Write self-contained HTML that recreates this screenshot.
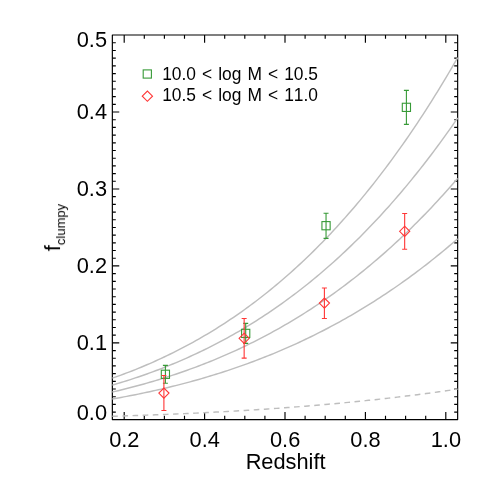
<!DOCTYPE html>
<html><head><meta charset="utf-8"><title>plot</title>
<style>html,body{margin:0;padding:0;background:#fff;}body{width:491px;height:491px;overflow:hidden;font-family:"Liberation Sans",sans-serif;}</style>
</head><body>
<svg width="491" height="491" viewBox="0 0 491 491" style="display:block">
<rect width="491" height="491" fill="#fff"/>
<g stroke="#000" stroke-width="1.18" fill="none" stroke-linecap="butt">
<rect x="112.35" y="35.0" width="345.30" height="384.60" stroke-linejoin="round"/>
<path stroke-width="1.15" d="M124.20 419.6v-7.7M124.20 35.0v7.7M144.30 419.6v-3.85M144.30 35.0v3.85M164.40 419.6v-3.85M164.40 35.0v3.85M184.50 419.6v-3.85M184.50 35.0v3.85M204.60 419.6v-7.7M204.60 35.0v7.7M224.70 419.6v-3.85M224.70 35.0v3.85M244.80 419.6v-3.85M244.80 35.0v3.85M264.90 419.6v-3.85M264.90 35.0v3.85M285.00 419.6v-7.7M285.00 35.0v7.7M305.10 419.6v-3.85M305.10 35.0v3.85M325.20 419.6v-3.85M325.20 35.0v3.85M345.30 419.6v-3.85M345.30 35.0v3.85M365.40 419.6v-7.7M365.40 35.0v7.7M385.50 419.6v-3.85M385.50 35.0v3.85M405.60 419.6v-3.85M405.60 35.0v3.85M425.70 419.6v-3.85M425.70 35.0v3.85M445.80 419.6v-7.7M445.80 35.0v7.7M112.35 412.11h3.45M457.65 412.11h-3.45M112.35 404.41h3.45M457.65 404.41h-3.45M112.35 396.72h3.45M457.65 396.72h-3.45M112.35 389.02h3.45M457.65 389.02h-3.45M112.35 381.33h3.45M457.65 381.33h-3.45M112.35 373.64h3.45M457.65 373.64h-3.45M112.35 365.94h3.45M457.65 365.94h-3.45M112.35 358.25h3.45M457.65 358.25h-3.45M112.35 350.55h3.45M457.65 350.55h-3.45M112.35 342.86h6.9M457.65 342.86h-6.9M112.35 335.17h3.45M457.65 335.17h-3.45M112.35 327.47h3.45M457.65 327.47h-3.45M112.35 319.78h3.45M457.65 319.78h-3.45M112.35 312.08h3.45M457.65 312.08h-3.45M112.35 304.39h3.45M457.65 304.39h-3.45M112.35 296.70h3.45M457.65 296.70h-3.45M112.35 289.00h3.45M457.65 289.00h-3.45M112.35 281.31h3.45M457.65 281.31h-3.45M112.35 273.61h3.45M457.65 273.61h-3.45M112.35 265.92h6.9M457.65 265.92h-6.9M112.35 258.23h3.45M457.65 258.23h-3.45M112.35 250.53h3.45M457.65 250.53h-3.45M112.35 242.84h3.45M457.65 242.84h-3.45M112.35 235.14h3.45M457.65 235.14h-3.45M112.35 227.45h3.45M457.65 227.45h-3.45M112.35 219.76h3.45M457.65 219.76h-3.45M112.35 212.06h3.45M457.65 212.06h-3.45M112.35 204.37h3.45M457.65 204.37h-3.45M112.35 196.67h3.45M457.65 196.67h-3.45M112.35 188.98h6.9M457.65 188.98h-6.9M112.35 181.29h3.45M457.65 181.29h-3.45M112.35 173.59h3.45M457.65 173.59h-3.45M112.35 165.90h3.45M457.65 165.90h-3.45M112.35 158.20h3.45M457.65 158.20h-3.45M112.35 150.51h3.45M457.65 150.51h-3.45M112.35 142.82h3.45M457.65 142.82h-3.45M112.35 135.12h3.45M457.65 135.12h-3.45M112.35 127.43h3.45M457.65 127.43h-3.45M112.35 119.73h3.45M457.65 119.73h-3.45M112.35 112.04h6.9M457.65 112.04h-6.9M112.35 104.35h3.45M457.65 104.35h-3.45M112.35 96.65h3.45M457.65 96.65h-3.45M112.35 88.96h3.45M457.65 88.96h-3.45M112.35 81.26h3.45M457.65 81.26h-3.45M112.35 73.57h3.45M457.65 73.57h-3.45M112.35 65.88h3.45M457.65 65.88h-3.45M112.35 58.18h3.45M457.65 58.18h-3.45M112.35 50.49h3.45M457.65 50.49h-3.45M112.35 42.79h3.45M457.65 42.79h-3.45"/>
</g>
<g stroke="#bebebe" stroke-width="1.45" fill="none">
<path d="M112.35 398.98L115.23 398.47L118.10 397.96L120.98 397.44L123.86 396.90L126.74 396.36L129.61 395.81L132.49 395.25L135.37 394.68L138.25 394.10L141.12 393.51L144.00 392.91L146.88 392.30L149.76 391.67L152.63 391.04L155.51 390.40L158.39 389.75L161.27 389.09L164.14 388.41L167.02 387.73L169.90 387.03L172.78 386.32L175.65 385.60L178.53 384.87L181.41 384.13L184.29 383.38L187.16 382.61L190.04 381.84L192.92 381.05L195.80 380.25L198.67 379.43L201.55 378.61L204.43 377.77L207.31 376.92L210.19 376.05L213.06 375.18L215.94 374.29L218.82 373.38L221.69 372.47L224.57 371.54L227.45 370.59L230.33 369.64L233.20 368.67L236.08 367.68L238.96 366.68L241.84 365.67L244.71 364.64L247.59 363.60L250.47 362.54L253.35 361.47L256.22 360.39L259.10 359.29L261.98 358.17L264.86 357.04L267.73 355.89L270.61 354.73L273.49 353.55L276.37 352.36L279.25 351.15L282.12 349.92L285.00 348.68L287.88 347.42L290.75 346.15L293.63 344.85L296.51 343.54L299.39 342.22L302.26 340.88L305.14 339.52L308.02 338.14L310.90 336.74L313.77 335.33L316.65 333.90L319.53 332.45L322.41 330.99L325.28 329.50L328.16 328.00L331.04 326.48L333.92 324.94L336.79 323.38L339.67 321.80L342.55 320.20L345.43 318.58L348.30 316.95L351.18 315.29L354.06 313.61L356.94 311.92L359.81 310.20L362.69 308.47L365.57 306.71L368.45 304.93L371.32 303.13L374.20 301.31L377.08 299.47L379.96 297.61L382.83 295.73L385.71 293.83L388.59 291.90L391.47 289.95L394.34 287.98L397.22 285.99L400.10 283.98L402.98 281.94L405.86 279.88L408.73 277.80L411.61 275.69L414.49 273.56L417.37 271.41L420.24 269.24L423.12 267.04L426.00 264.82L428.87 262.57L431.75 260.30L434.63 258.00L437.51 255.68L440.38 253.34L443.26 250.97L446.14 248.57L449.02 246.15L451.89 243.71L454.77 241.24L457.65 238.74"/>
<path d="M112.35 392.04L115.23 391.36L118.10 390.68L120.98 389.98L123.86 389.27L126.74 388.55L129.61 387.81L132.49 387.06L135.37 386.30L138.25 385.53L141.12 384.74L144.00 383.94L146.88 383.13L149.76 382.30L152.63 381.46L155.51 380.60L158.39 379.73L161.27 378.85L164.14 377.95L167.02 377.04L169.90 376.11L172.78 375.16L175.65 374.21L178.53 373.23L181.41 372.24L184.29 371.24L187.16 370.22L190.04 369.18L192.92 368.13L195.80 367.06L198.67 365.98L201.55 364.88L204.43 363.76L207.31 362.62L210.19 361.47L213.06 360.30L215.94 359.12L218.82 357.91L221.69 356.69L224.57 355.45L227.45 354.19L230.33 352.92L233.20 351.62L236.08 350.31L238.96 348.98L241.84 347.63L244.71 346.26L247.59 344.87L250.47 343.46L253.35 342.03L256.22 340.58L259.10 339.11L261.98 337.63L264.86 336.12L267.73 334.59L270.61 333.04L273.49 331.47L276.37 329.88L279.25 328.26L282.12 326.63L285.00 324.97L287.88 323.29L290.75 321.59L293.63 319.87L296.51 318.13L299.39 316.36L302.26 314.57L305.14 312.76L308.02 310.92L310.90 309.06L313.77 307.18L316.65 305.27L319.53 303.34L322.41 301.38L325.28 299.40L328.16 297.40L331.04 295.37L333.92 293.31L336.79 291.23L339.67 289.13L342.55 287.00L345.43 284.84L348.30 282.66L351.18 280.45L354.06 278.22L356.94 275.96L359.81 273.67L362.69 271.35L365.57 269.01L368.45 266.64L371.32 264.25L374.20 261.82L377.08 259.37L379.96 256.88L382.83 254.37L385.71 251.84L388.59 249.27L391.47 246.67L394.34 244.04L397.22 241.39L400.10 238.70L402.98 235.99L405.86 233.24L408.73 230.46L411.61 227.66L414.49 224.82L417.37 221.95L420.24 219.05L423.12 216.12L426.00 213.15L428.87 210.16L431.75 207.13L434.63 204.07L437.51 200.98L440.38 197.85L443.26 194.69L446.14 191.50L449.02 188.27L451.89 185.01L454.77 181.71L457.65 178.38"/>
<path d="M112.35 385.10L115.23 384.25L118.10 383.40L120.98 382.53L123.86 381.64L126.74 380.73L129.61 379.82L132.49 378.88L135.37 377.93L138.25 376.96L141.12 375.98L144.00 374.98L146.88 373.96L149.76 372.92L152.63 371.87L155.51 370.80L158.39 369.71L161.27 368.61L164.14 367.49L167.02 366.34L169.90 365.18L172.78 364.01L175.65 362.81L178.53 361.59L181.41 360.35L184.29 359.10L187.16 357.82L190.04 356.53L192.92 355.21L195.80 353.88L198.67 352.52L201.55 351.15L204.43 349.75L207.31 348.33L210.19 346.89L213.06 345.43L215.94 343.94L218.82 342.44L221.69 340.91L224.57 339.36L227.45 337.79L230.33 336.20L233.20 334.58L236.08 332.94L238.96 331.27L241.84 329.58L244.71 327.87L247.59 326.13L250.47 324.37L253.35 322.59L256.22 320.78L259.10 318.94L261.98 317.08L264.86 315.20L267.73 313.29L270.61 311.35L273.49 309.39L276.37 307.40L279.25 305.38L282.12 303.34L285.00 301.27L287.88 299.17L290.75 297.04L293.63 294.89L296.51 292.71L299.39 290.50L302.26 288.26L305.14 285.99L308.02 283.70L310.90 281.37L313.77 279.02L316.65 276.64L319.53 274.22L322.41 271.78L325.28 269.30L328.16 266.80L331.04 264.26L333.92 261.69L336.79 259.09L339.67 256.46L342.55 253.80L345.43 251.10L348.30 248.38L351.18 245.62L354.06 242.82L356.94 240.00L359.81 237.14L362.69 234.24L365.57 231.32L368.45 228.35L371.32 225.36L374.20 222.32L377.08 219.26L379.96 216.16L382.83 213.02L385.71 209.84L388.59 206.64L391.47 203.39L394.34 200.11L397.22 196.79L400.10 193.43L402.98 190.03L405.86 186.60L408.73 183.13L411.61 179.62L414.49 176.07L417.37 172.49L420.24 168.86L423.12 165.20L426.00 161.49L428.87 157.75L431.75 153.96L434.63 150.14L437.51 146.27L440.38 142.36L443.26 138.41L446.14 134.42L449.02 130.39L451.89 126.31L454.77 122.19L457.65 118.03"/>
<path d="M112.35 378.15L115.23 377.14L118.10 376.12L120.98 375.07L123.86 374.01L126.74 372.92L129.61 371.82L132.49 370.70L135.37 369.56L138.25 368.39L141.12 367.21L144.00 366.01L146.88 364.79L149.76 363.55L152.63 362.29L155.51 361.00L158.39 359.70L161.27 358.37L164.14 357.02L167.02 355.65L169.90 354.26L172.78 352.85L175.65 351.41L178.53 349.95L181.41 348.47L184.29 346.96L187.16 345.43L190.04 343.87L192.92 342.30L195.80 340.69L198.67 339.07L201.55 337.41L204.43 335.74L207.31 334.04L210.19 332.31L213.06 330.55L215.94 328.77L218.82 326.97L221.69 325.13L224.57 323.28L227.45 321.39L230.33 319.47L233.20 317.53L236.08 315.56L238.96 313.57L241.84 311.54L244.71 309.49L247.59 307.40L250.47 305.29L253.35 303.15L256.22 300.97L259.10 298.77L261.98 296.54L264.86 294.28L267.73 291.98L270.61 289.66L273.49 287.30L276.37 284.91L279.25 282.49L282.12 280.04L285.00 277.56L287.88 275.04L290.75 272.49L293.63 269.91L296.51 267.29L299.39 264.64L302.26 261.95L305.14 259.23L308.02 256.48L310.90 253.69L313.77 250.86L316.65 248.00L319.53 245.11L322.41 242.17L325.28 239.20L328.16 236.20L331.04 233.15L333.92 230.07L336.79 226.95L339.67 223.80L342.55 220.60L345.43 217.37L348.30 214.09L351.18 210.78L354.06 207.43L356.94 204.04L359.81 200.60L362.69 197.13L365.57 193.62L368.45 190.06L371.32 186.47L374.20 182.83L377.08 179.15L379.96 175.43L382.83 171.66L385.71 167.85L388.59 164.00L391.47 160.11L394.34 156.17L397.22 152.18L400.10 148.15L402.98 144.08L405.86 139.96L408.73 135.80L411.61 131.59L414.49 127.33L417.37 123.03L420.24 118.67L423.12 114.28L426.00 109.83L428.87 105.34L431.75 100.79L434.63 96.20L437.51 91.56L440.38 86.87L443.26 82.13L446.14 77.34L449.02 72.50L451.89 67.61L454.77 62.67L457.65 57.68"/>
<path stroke-dasharray="5.6 4.51" d="M112.35 416.27L115.23 416.19L118.10 416.10L120.98 416.01L123.86 415.92L126.74 415.83L129.61 415.73L132.49 415.64L135.37 415.54L138.25 415.44L141.12 415.34L144.00 415.24L146.88 415.14L149.76 415.03L152.63 414.93L155.51 414.82L158.39 414.71L161.27 414.60L164.14 414.48L167.02 414.37L169.90 414.25L172.78 414.13L175.65 414.01L178.53 413.88L181.41 413.76L184.29 413.63L187.16 413.50L190.04 413.37L192.92 413.23L195.80 413.10L198.67 412.96L201.55 412.82L204.43 412.68L207.31 412.53L210.19 412.39L213.06 412.24L215.94 412.09L218.82 411.93L221.69 411.78L224.57 411.62L227.45 411.46L230.33 411.30L233.20 411.14L236.08 410.97L238.96 410.80L241.84 410.63L244.71 410.45L247.59 410.28L250.47 410.10L253.35 409.92L256.22 409.73L259.10 409.55L261.98 409.36L264.86 409.17L267.73 408.97L270.61 408.77L273.49 408.57L276.37 408.37L279.25 408.17L282.12 407.96L285.00 407.75L287.88 407.54L290.75 407.32L293.63 407.10L296.51 406.88L299.39 406.65L302.26 406.43L305.14 406.20L308.02 405.96L310.90 405.73L313.77 405.49L316.65 405.24L319.53 405.00L322.41 404.75L325.28 404.50L328.16 404.24L331.04 403.99L333.92 403.73L336.79 403.46L339.67 403.19L342.55 402.92L345.43 402.65L348.30 402.37L351.18 402.09L354.06 401.81L356.94 401.52L359.81 401.23L362.69 400.93L365.57 400.64L368.45 400.34L371.32 400.03L374.20 399.72L377.08 399.41L379.96 399.10L382.83 398.78L385.71 398.45L388.59 398.13L391.47 397.80L394.34 397.46L397.22 397.13L400.10 396.78L402.98 396.44L405.86 396.09L408.73 395.74L411.61 395.38L414.49 395.02L417.37 394.66L420.24 394.29L423.12 393.91L426.00 393.54L428.87 393.16L431.75 392.77L434.63 392.38L437.51 391.99L440.38 391.59L443.26 391.19L446.14 390.79L449.02 390.38L451.89 389.96L454.77 389.54L457.65 389.12"/>
</g>
<g stroke="#379a37" stroke-width="1.1" fill="none">
<path d="M165.4 365.4V383.3M162.9 365.4h5.0M162.9 383.3h5.0"/>
<rect x="161.30" y="370.20" width="8.2" height="8.2"/>
<path d="M245.7 323.4V343.4M243.2 323.4h5.0M243.2 343.4h5.0"/>
<rect x="241.60" y="329.30" width="8.2" height="8.2"/>
<path d="M326.04 213.2V238.4M323.54 213.2h5.0M323.54 238.4h5.0"/>
<rect x="321.94" y="221.60" width="8.2" height="8.2"/>
<path d="M406.4 90.4V124.4M403.9 90.4h5.0M403.9 124.4h5.0"/>
<rect x="402.30" y="103.25" width="8.2" height="8.2"/>
<rect x="143.20" y="69.90" width="8.2" height="8.2"/>
</g>
<g stroke="#ff3636" stroke-width="1.1" fill="none">
<path d="M163.9 375.5V410.5M161.4 375.5h5.0M161.4 410.5h5.0"/>
<path d="M158.8 393.1L163.9 388.0L169.0 393.1L163.9 398.20000000000005Z"/>
<path d="M244.15 318.5V358.1M241.65 318.5h5.0M241.65 358.1h5.0"/>
<path d="M239.05 338.3L244.15 333.2L249.25 338.3L244.15 343.40000000000003Z"/>
<path d="M324.4 287.96V318.5M321.9 287.96h5.0M321.9 318.5h5.0"/>
<path d="M319.29999999999995 303.1L324.4 298.0L329.5 303.1L324.4 308.20000000000005Z"/>
<path d="M404.67 213.44V249.25M402.17 213.44h5.0M402.17 249.25h5.0"/>
<path d="M399.57 231.3L404.67 226.20000000000002L409.77000000000004 231.3L404.67 236.4Z"/>
<path d="M142.3 96.2L147.4 91.10000000000001L152.5 96.2L147.4 101.3Z"/>
</g>
<g font-family="'Liberation Sans', sans-serif" fill="#000" font-size="21.8" opacity="0.999">
<text transform="translate(124.3 446.9) scale(1 1.05)" text-anchor="middle">0.2</text>
<text transform="translate(204.7 446.9) scale(1 1.05)" text-anchor="middle">0.4</text>
<text transform="translate(285.1 446.9) scale(1 1.05)" text-anchor="middle">0.6</text>
<text transform="translate(365.5 446.9) scale(1 1.05)" text-anchor="middle">0.8</text>
<text transform="translate(445.9 446.9) scale(1 1.05)" text-anchor="middle">1.0</text>
<text transform="translate(107.0 47.4) scale(1 1.05)" text-anchor="end">0.5</text>
<text transform="translate(107.0 119.1) scale(1 1.05)" text-anchor="end">0.4</text>
<text transform="translate(107.0 196.0) scale(1 1.05)" text-anchor="end">0.3</text>
<text transform="translate(107.0 273.0) scale(1 1.05)" text-anchor="end">0.2</text>
<text transform="translate(107.0 350.0) scale(1 1.05)" text-anchor="end">0.1</text>
<text transform="translate(107.0 420.1) scale(1 1.05)" text-anchor="end">0.0</text>
<text transform="translate(285.6 468.6) scale(1 1.05)" text-anchor="middle">Redshift</text>
<text transform="translate(60.05 251.2) rotate(-90) scale(1 1.05)">f<tspan font-size="13" dy="4.5">clumpy</tspan></text>
<text transform="translate(162.2 79.5) scale(1 1.05)" font-size="17.4" word-spacing="1.2" style="font-kerning:none">10.0 &lt; log M &lt; 10.5</text>
<text transform="translate(162.2 101.4) scale(1 1.05)" font-size="17.4" word-spacing="1.2" style="font-kerning:none">10.5 &lt; log M &lt; 11.0</text>
</g>
</svg>
</body></html>
